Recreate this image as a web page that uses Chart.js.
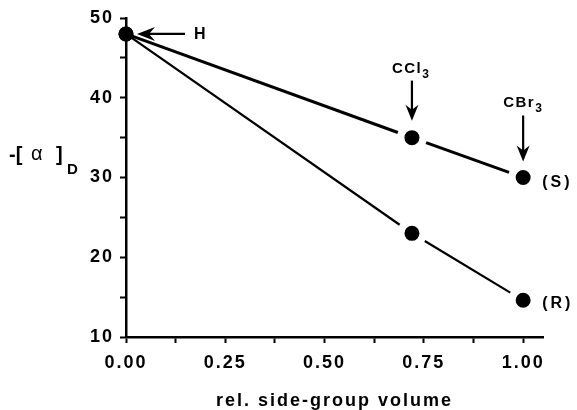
<!DOCTYPE html>
<html>
<head>
<meta charset="utf-8">
<script src="https://cdn.jsdelivr.net/npm/chart.js@4.4.0/dist/chart.umd.min.js"></script>
<style>
html, body { margin: 0; padding: 0; background: #fff; }
#wrap { width: 577px; height: 410px; }
</style>
</head>
<body>
<div id="wrap"><canvas id="grafico"></canvas></div>
<script>
// dados
const volume = [0, 0.72, 1.00];
const rotacaoS = [48, 35, 30];
const rotacaoR = [48, 23, 14.6];
const xTicks = [0, 0.125, 0.25, 0.375, 0.5, 0.625, 0.75, 0.875, 1.0];
const yTicks = [10, 15, 20, 25, 30, 35, 40, 45, 50];
const grupos = ['H', 'CCl', 'CBr'];
const rotulos = ['(S)', '(R)'];

const FONTE = '"Liberation Sans", Arial, Helvetica, sans-serif';
const FOLGA = 15; // espaco em branco entre a linha e o ponto

function espacamento(chart) {
    chart.ctx.letterSpacing = '2px';
}

function setaBaixo(ctx, x, yTopo, yPonta) {
    ctx.beginPath();
    ctx.moveTo(x, yTopo);
    ctx.lineTo(x, yPonta - 8);
    ctx.stroke();
    ctx.beginPath();
    ctx.moveTo(x, yPonta);
    ctx.lineTo(x - 6.5, yPonta - 16);
    ctx.lineTo(x, yPonta - 11);
    ctx.lineTo(x + 6.5, yPonta - 16);
    ctx.closePath();
    ctx.fill();
}

function setaEsquerda(ctx, xPonta, y, xFim) {
    ctx.beginPath();
    ctx.moveTo(xPonta + 8, y);
    ctx.lineTo(xFim, y);
    ctx.stroke();
    ctx.beginPath();
    ctx.moveTo(xPonta, y);
    ctx.lineTo(xPonta + 18, y - 7);
    ctx.lineTo(xPonta + 12, y);
    ctx.lineTo(xPonta + 18, y + 7);
    ctx.closePath();
    ctx.fill();
}

// tracejado por segmento: deixa um vao antes de cada ponto (menos no H)
function vaos(c) {
    const L = Math.hypot(c.p1.x - c.p0.x, c.p1.y - c.p0.y);
    const g0 = c.p0DataIndex === 0 ? 0 : FOLGA;
    return [0, g0, Math.max(L - g0 - FOLGA, 0), 2000];
}

const anotacoes = {
    id: 'anotacoes',
    beforeUpdate: espacamento,
    beforeDraw: espacamento,
    afterDraw(chart) {
        const ctx = chart.ctx;
        const x = chart.scales.x, y = chart.scales.y;
        ctx.save();
        ctx.setLineDash([]);
        ctx.fillStyle = '#000';
        ctx.strokeStyle = '#000';
        ctx.lineWidth = 2.2;

        // H
        const hx = x.getPixelForValue(volume[0]), hy = y.getPixelForValue(rotacaoS[0]);
        setaEsquerda(ctx, hx + 11, hy, hx + 59);
        ctx.font = 'bold 16px ' + FONTE;
        ctx.letterSpacing = '1px';
        ctx.textBaseline = 'middle';
        ctx.fillText(grupos[0], hx + 68, hy + 1);

        // CCl3 e CBr3 sobre a serie (S)
        const desloc = [null, { topo: 57, ponta: 17, texto: 65 }, { topo: 62, ponta: 16, texto: 71 }];
        for (let i = 1; i < 3; i++) {
            const px = x.getPixelForValue(volume[i]), py = y.getPixelForValue(rotacaoS[i]);
            const d = desloc[i];
            setaBaixo(ctx, px, py - d.topo, py - d.ponta);
            ctx.textBaseline = 'alphabetic';
            ctx.font = 'bold 15px ' + FONTE;
            ctx.letterSpacing = '1.5px';
            ctx.fillText(grupos[i], px - 20, py - d.texto);
            const w = ctx.measureText(grupos[i]).width;
            ctx.font = 'bold 12px ' + FONTE;
            ctx.fillText('3', px - 20 + w, py - d.texto + 5);
        }

        // (S) e (R)
        ctx.font = 'bold 16px ' + FONTE;
        ctx.letterSpacing = '3px';
        ctx.textBaseline = 'middle';
        const ult = volume.length - 1;
        ctx.fillText(rotulos[0], x.getPixelForValue(volume[ult]) + 19, y.getPixelForValue(rotacaoS[ult]) + 5);
        ctx.fillText(rotulos[1], x.getPixelForValue(volume[ult]) + 19, y.getPixelForValue(rotacaoR[ult]) + 3);

        // titulo do eixo y: -[ α ]D
        ctx.letterSpacing = '0px';
        ctx.textBaseline = 'alphabetic';
        ctx.font = 'bold 20px ' + FONTE;
        ctx.fillText('-[', 9, 161);
        ctx.fillText(']', 56, 161);
        ctx.font = '20px ' + FONTE;
        ctx.fillText('α', 31, 160);
        ctx.font = 'bold 15px ' + FONTE;
        ctx.fillText('D', 67, 174);
        ctx.restore();
    }
};

// tipo 'line' com eixo x linear: o LineController repassa as opcoes de segmento
function serie(valores, largura) {
    return {
        data: volume.map((v, i) => ({ x: v, y: valores[i] })),
        borderColor: '#000',
        borderWidth: largura,
        tension: 0,
        fill: false,
        segment: { borderDash: vaos },
        pointRadius: [7.5, 10.5, 10.5],
        pointBackgroundColor: '#000',
        pointBorderColor: '#fff',
        pointBorderWidth: [0, 6, 6],
        clip: false
    };
}

const ctx = document.getElementById('grafico').getContext('2d');

new Chart(ctx, {
    type: 'line',
    data: { datasets: [serie(rotacaoS, 3), serie(rotacaoR, 2.2)] },
    options: {
        responsive: true,
        maintainAspectRatio: false,
        animation: false,
        events: [],
        layout: { padding: { top: 18, right: 34, bottom: 0, left: 0 } },
        plugins: {
            legend: { display: false },
            tooltip: { enabled: false }
        },
        scales: {
            x: {
                type: 'linear',
                min: 0,
                max: 1.05,
                afterBuildTicks: scale => { scale.ticks = xTicks.map(v => ({ value: v })); },
                afterFit: scale => { scale.height = 73; },
                border: { color: '#000', width: 2.5 },
                grid: {
                    drawOnChartArea: false,
                    drawTicks: true,
                    tickLength: 6,
                    tickColor: '#000',
                    tickWidth: 2
                },
                ticks: {
                    autoSkip: false,
                    maxRotation: 0,
                    color: '#000',
                    padding: 9,
                    font: { family: FONTE, size: 18, weight: 'bold' },
                    callback: value => (Math.round(value * 4) === value * 4 ? value.toFixed(2) : '')
                },
                title: {
                    display: true,
                    text: 'rel. side-group volume',
                    color: '#000',
                    font: { family: FONTE, size: 18, weight: 'bold', lineHeight: 1 },
                    padding: { top: 0, bottom: 0 }
                }
            },
            y: {
                type: 'linear',
                min: 10,
                max: 50,
                afterBuildTicks: scale => { scale.ticks = yTicks.map(v => ({ value: v })); },
                afterFit: scale => { scale.width = 126; },
                border: { color: '#000', width: 2.5 },
                grid: {
                    drawOnChartArea: false,
                    drawTicks: true,
                    tickLength: 6,
                    tickColor: '#000',
                    tickWidth: 2
                },
                ticks: {
                    autoSkip: false,
                    color: '#000',
                    padding: 6,
                    font: { family: FONTE, size: 18, weight: 'bold' },
                    callback: value => (value % 10 === 0 ? String(value) : '')
                }
            }
        }
    },
    plugins: [anotacoes]
});
</script>
</body>
</html>
